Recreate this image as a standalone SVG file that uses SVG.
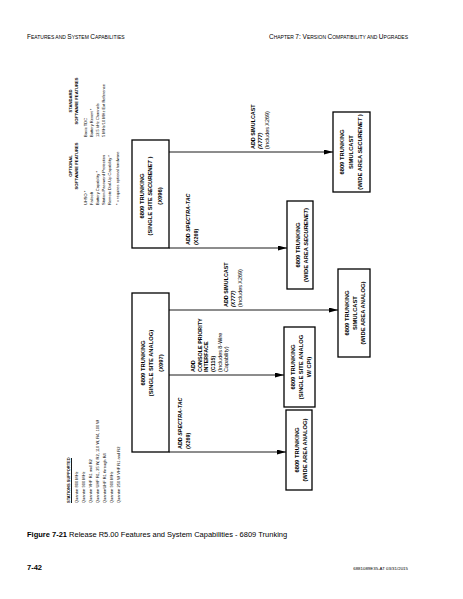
<svg xmlns="http://www.w3.org/2000/svg" width="463" height="599" viewBox="0 0 463 599">
<defs>
<marker id="arr" markerWidth="9" markerHeight="5" refX="9" refY="2.5" orient="auto" markerUnits="userSpaceOnUse">
<path d="M0,0 L9,2.5 L0,5 Z" fill="#000"/>
</marker>
<style>
text{font-family:"Liberation Sans",Arial,sans-serif;fill:#000}
.hdr{font-size:6.5px}
.sm{font-size:5px}
.box{fill:#fff;stroke:#000;stroke-width:1.3}
.bt{font-size:5.8px;font-weight:bold;text-anchor:middle}
.lb{font-size:5.4px;font-weight:bold}
.ft{font-size:4px}
.fh{font-size:4.2px;font-weight:bold;text-anchor:middle}
.ln{stroke:#000;stroke-width:0.9;fill:none}
</style>
</defs>
<rect width="463" height="599" fill="#fff"/>
<g id="header">
<text x="27" y="39" class="hdr">F<tspan class="sm">EATURES AND </tspan>S<tspan class="sm">YSTEM </tspan>C<tspan class="sm">APABILITIES</tspan></text>
<text x="408" y="39" class="hdr" text-anchor="end">C<tspan class="sm">HAPTER </tspan>7: V<tspan class="sm">ERSION </tspan>C<tspan class="sm">OMPATIBILITY AND </tspan>U<tspan class="sm">PGRADES</tspan></text>
</g>
<g id="connectors">
<line class="ln" x1="169" y1="152" x2="333" y2="152" marker-end="url(#arr)"/>
<line class="ln" x1="169" y1="248" x2="287" y2="248" marker-end="url(#arr)"/>
<line class="ln" x1="169" y1="310" x2="338" y2="310" marker-end="url(#arr)"/>
<line class="ln" x1="169" y1="375" x2="284" y2="375" marker-end="url(#arr)"/>
<line class="ln" x1="169" y1="452" x2="286" y2="452" marker-end="url(#arr)"/>
<g class="lb">
<text transform="translate(255,149) rotate(-90)">ADD  SIMULCAST</text>
<text transform="translate(262,149) rotate(-90)" font-style="italic">(X777)</text>
<text transform="translate(269,149) rotate(-90)" font-weight="normal">(Includes X269)</text>
<text transform="translate(190,245) rotate(-90)">ADD  <tspan font-style="italic">SPECTRA-TAC</tspan></text>
<text transform="translate(198,245) rotate(-90)">(X269)</text>
<text transform="translate(228,307) rotate(-90)">ADD  SIMULCAST</text>
<text transform="translate(235,307) rotate(-90)" font-style="italic">(X777)</text>
<text transform="translate(242,307) rotate(-90)" font-weight="normal">(Includes X269)</text>
<text transform="translate(195,372) rotate(-90)">ADD</text>
<text transform="translate(201.5,372) rotate(-90)">CONSOLE PRIORITY</text>
<text transform="translate(208,372) rotate(-90)">INTERFACE</text>
<text transform="translate(215,372) rotate(-90)">(C115)</text>
<text transform="translate(222,372) rotate(-90)" font-weight="normal">(Includes 8-Wire</text>
<text transform="translate(228,372) rotate(-90)" font-weight="normal">Capability)</text>
<text transform="translate(182,449) rotate(-90)">ADD  <tspan font-style="italic">SPECTRA-TAC</tspan></text>
<text transform="translate(190,449) rotate(-90)">(X269)</text>
</g>
</g>
<g id="n_ss_securenet">
<rect class="box" x="132" y="140" width="37" height="108"/>
<text class="bt" transform="translate(144,196) rotate(-90)">6809 TRUNKING</text>
<text class="bt" transform="translate(152,196) rotate(-90)">(SINGLE SITE <tspan font-style="italic">SECURENET</tspan> )</text>
<text class="bt" transform="translate(162,196) rotate(-90)">(X996)</text>
</g>
<g id="n_ss_analog">
<rect class="box" x="132" y="293" width="37" height="159"/>
<text class="bt" transform="translate(145,363) rotate(-90)">6809 TRUNKING</text>
<text class="bt" transform="translate(153,363) rotate(-90)">(SINGLE SITE ANALOG)</text>
<text class="bt" transform="translate(163,363) rotate(-90)">(X997)</text>
</g>
<g id="n_sim_wa_securenet">
<rect class="box" x="333" y="112" width="37" height="80"/>
<text class="bt" transform="translate(344,152) rotate(-90)">6809 TRUNKING</text>
<text class="bt" transform="translate(353,152) rotate(-90)">SIMULCAST</text>
<text class="bt" transform="translate(362,152) rotate(-90)">(WIDE AREA <tspan font-style="italic">SECURENET</tspan> )</text>
</g>
<g id="n_wa_securenet">
<rect class="box" x="287" y="201" width="26" height="88"/>
<text class="bt" transform="translate(300,245) rotate(-90)">6809 TRUNKING</text>
<text class="bt" transform="translate(308,245) rotate(-90)">(WIDE AREA <tspan font-style="italic">SECURENET</tspan>)</text>
</g>
<g id="n_sim_wa_analog">
<rect class="box" x="338" y="269" width="32" height="88"/>
<text class="bt" transform="translate(349,313) rotate(-90)">6809 TRUNKING</text>
<text class="bt" transform="translate(357,313) rotate(-90)">SIMULCAST</text>
<text class="bt" transform="translate(365,313) rotate(-90)">(WIDE AREA ANALOG)</text>
</g>
<g id="n_ss_analog_cpi">
<rect class="box" x="284" y="327" width="31" height="80"/>
<text class="bt" transform="translate(295,367) rotate(-90)">6809 TRUNKING</text>
<text class="bt" transform="translate(303,367) rotate(-90)">(SINGLE SITE ANALOG</text>
<text class="bt" transform="translate(311,367) rotate(-90)">W/ CPI)</text>
</g>
<g id="n_wa_analog">
<rect class="box" x="286" y="410" width="26" height="80"/>
<text class="bt" transform="translate(299,450) rotate(-90)">6809 TRUNKING</text>
<text class="bt" transform="translate(307,450) rotate(-90)">(WIDE AREA ANALOG)</text>
</g>
<g id="standard_features">
<text class="fh" transform="translate(72,101) rotate(-90)">STANDARD</text>
<text class="fh" transform="translate(78,101) rotate(-90)">SOFTWARE FEATURES</text>
<text class="ft" transform="translate(87,137) rotate(-90)">Basic TDC</text>
<text class="ft" transform="translate(93,137) rotate(-90)">Battery Revert *</text>
<text class="ft" transform="translate(99,137) rotate(-90)">12.5 kHz Channels</text>
<text class="ft" transform="translate(105,137) rotate(-90)">5 MHz/10 MHz Ext Reference</text>
</g>
<g id="optional_features">
<text class="fh" transform="translate(72,166) rotate(-90)">OPTIONAL</text>
<text class="fh" transform="translate(78,166) rotate(-90)">SOFTWARE FEATURES</text>
<text class="ft" transform="translate(87,205) rotate(-90)">UHSO *</text>
<text class="ft" transform="translate(93,205) rotate(-90)">Failsoft</text>
<text class="ft" transform="translate(99,205) rotate(-90)">Battery Capability *</text>
<text class="ft" transform="translate(105,205) rotate(-90)">Station Password Protection</text>
<text class="ft" transform="translate(111,205) rotate(-90)">Remote Dial-Up Capability *</text>
<text class="ft" transform="translate(119,205) rotate(-90)">* = requires optional hardware</text>
</g>
<g id="stations_supported">
<text class="ft" font-weight="bold" transform="translate(70,503) rotate(-90)">STATIONS SUPPORTED</text>
<line class="ln" x1="71.5" y1="503" x2="71.5" y2="458" stroke-width="0.5"/>
<text class="ft" transform="translate(78,503) rotate(-90)">Quantar  800 MHz</text>
<text class="ft" transform="translate(85,503) rotate(-90)">Quantar  900 MHz</text>
<text class="ft" transform="translate(92,503) rotate(-90)">Quantar  VHF R1 and R2</text>
<text class="ft" transform="translate(99,503) rotate(-90)">Quantar  UHF R1, 25 W, R2, 110 W, R4, 100 W</text>
<text class="ft" transform="translate(106,503) rotate(-90)">QuantarUHF R1 through R4</text>
<text class="ft" transform="translate(113,503) rotate(-90)">Quantar  900 MHz</text>
<text class="ft" transform="translate(120,503) rotate(-90)">Quantar  250 W VHF R1 and R2</text>
</g>
<g id="caption">
<text x="27" y="537" font-size="7.5"><tspan font-weight="bold">Figure 7-21</tspan>  Release R5.00 Features and System Capabilities - 6809 Trunking</text>
<text x="27" y="570" font-size="7.5" font-weight="bold">7-42</text>
<text x="408" y="570" font-size="4.4" text-anchor="end">6881089E35-AT    03/31/2015</text>
</g>
</svg>
